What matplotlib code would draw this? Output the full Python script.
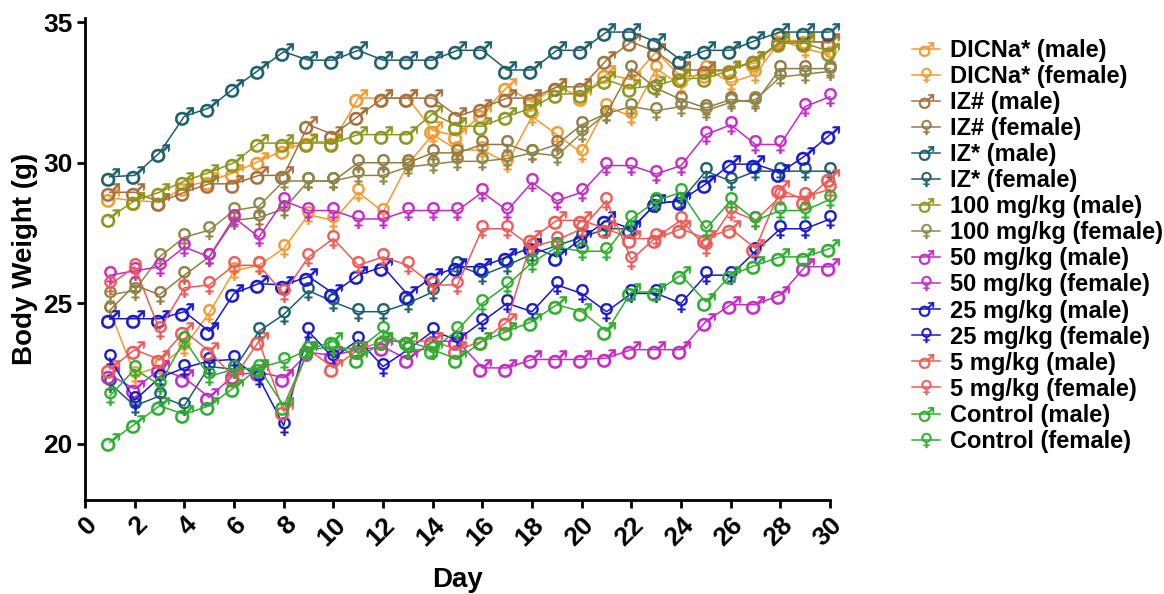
import matplotlib
matplotlib.use('Agg')
import matplotlib.pyplot as plt

plt.rcParams['font.family'] = ['Liberation Sans', 'DejaVu Sans']
plt.rcParams['mathtext.fontset'] = 'dejavusans'

# body weight (g) per day
days = list(range(1, 31))

dicna_male = [28.75, 28.65, 28.6, 29.15, 29.35, 29.65, 30.05, 30.45, 30.75, 30.75,
              32.3, 32.3, 32.3, 31.15, 30.95, 31.75, 32.7, 32.15, 32.7, 32.35,
              33.15, 32.95, 33.95, 33.05, 33.15, 33.35, 33.55, 34.35, 34.35, 34.25]
dicna_female = [24.75, 22.45, 22.75, 23.45, 24.65, 26.15, 26.35, 26.95, 28.15, 27.95,
                28.95, 28.25, 29.95, 31.0, 30.45, 30.45, 30.0, 31.65, 31.0, 30.35,
                32.0, 31.65, 33.35, 32.75, 33.35, 32.85, 33.15, 34.35, 34.05, 33.85]
izh_male = [28.95, 28.95, 28.6, 28.95, 29.25, 29.25, 29.55, 29.55, 31.35, 31.0,
            31.65, 32.3, 32.3, 32.3, 31.65, 31.95, 32.3, 32.3, 32.7, 32.7,
            33.65, 34.3, 33.95, 33.3, 33.3, 33.3, 33.65, 34.3, 34.3, 34.3]
izh_female = [24.75, 25.65, 25.3, 26.0, 26.65, 27.95, 28.05, 28.35, 29.35, 29.35,
              30.0, 30.0, 30.0, 30.35, 30.35, 30.65, 30.65, 30.35, 30.65, 31.35,
              31.75, 33.35, 32.65, 32.25, 31.95, 32.25, 32.15, 33.35, 33.35, 33.35]
izs_male = [29.5, 29.55, 30.35, 31.65, 31.95, 32.65, 33.3, 33.95, 33.65, 33.65,
            34.0, 33.65, 33.65, 33.65, 34.0, 34.0, 33.3, 33.3, 34.0, 34.0,
            34.65, 34.65, 34.3, 33.65, 34.0, 34.0, 34.35, 34.65, 34.65, 34.65]
izs_female = [22.15, 21.35, 21.7, 21.35, 22.75, 22.65, 24.0, 24.6, 25.45, 25.05,
              24.7, 24.7, 25.0, 25.4, 26.35, 26.0, 26.35, 26.75, 27.05, 27.35,
              27.65, 27.65, 28.55, 28.65, 29.7, 29.35, 29.7, 29.7, 29.7, 29.7]
d100_male = [28.05, 28.65, 28.95, 29.35, 29.65, 30.0, 30.7, 30.7, 30.7, 30.7,
             31.0, 31.0, 31.0, 31.75, 31.3, 31.3, 31.65, 31.95, 32.45, 32.45,
             32.95, 32.65, 32.75, 33.0, 33.0, 33.3, 33.65, 34.25, 34.25, 33.95]
d100_female = [25.3, 25.45, 26.65, 27.35, 27.6, 28.3, 28.45, 29.35, 29.35, 29.35,
               29.55, 29.55, 29.85, 29.95, 30.05, 30.05, 30.15, 30.35, 30.25, 31.05,
               31.75, 32.0, 31.85, 32.0, 31.85, 32.15, 32.25, 33.05, 33.15, 33.25]
d50_male = [22.45, 21.95, 22.65, 22.35, 21.65, 22.45, 22.55, 22.35, 23.25, 23.15,
            23.35, 23.45, 23.0, 23.65, 23.65, 22.7, 22.7, 23.0, 23.0, 23.0,
            23.05, 23.35, 23.35, 23.35, 24.35, 24.95, 24.95, 25.3, 26.3, 26.3]
d50_female = [26.0, 26.15, 26.3, 27.0, 26.65, 28.05, 27.35, 28.65, 28.3, 28.3,
              28.0, 28.0, 28.3, 28.3, 28.3, 28.95, 28.3, 29.3, 28.65, 28.95,
              29.9, 29.9, 29.6, 29.9, 31.0, 31.35, 30.65, 30.65, 32.0, 32.35]
d25_male = [24.45, 24.45, 24.45, 24.7, 24.0, 25.35, 25.7, 25.65, 25.95, 25.35,
            26.0, 26.3, 25.3, 25.95, 26.3, 26.3, 26.65, 27.0, 26.65, 27.3,
            27.95, 27.65, 28.55, 28.65, 29.25, 29.95, 29.95, 29.65, 30.25, 31.0]
d25_female = [23.05, 21.55, 22.35, 22.7, 22.95, 23.0, 22.35, 20.65, 24.0, 23.05,
              23.7, 22.75, 23.35, 24.0, 23.7, 24.35, 25.0, 24.7, 25.65, 25.35,
              24.7, 25.35, 25.35, 25.0, 26.0, 26.0, 26.85, 27.65, 27.65, 28.0]
d5_male = [22.65, 23.35, 23.0, 24.0, 23.3, 22.35, 23.65, 21.15, 23.35, 22.7,
           23.35, 23.65, 23.65, 23.65, 23.35, 23.65, 24.35, 27.3, 27.95, 27.95,
           27.65, 27.3, 27.3, 27.65, 27.3, 27.65, 26.95, 29.05, 28.65, 29.45]
d5_female = [25.65, 26.3, 24.05, 25.55, 25.65, 26.35, 26.35, 25.35, 26.65, 27.3,
             26.35, 26.65, 26.35, 25.65, 25.65, 27.65, 27.65, 27.0, 27.25, 27.65,
             28.65, 26.55, 27.35, 27.95, 27.0, 28.3, 27.95, 28.8, 28.8, 29.05]
ctrl_male = [20.05, 20.7, 21.35, 21.05, 21.35, 22.0, 22.7, 21.35, 23.35, 23.65,
             23.0, 23.65, 23.65, 23.35, 23.0, 23.65, 24.0, 24.35, 24.95, 24.7,
             24.0, 25.4, 25.4, 26.0, 25.05, 26.0, 26.35, 26.65, 26.65, 26.95]
ctrl_female = [21.7, 22.65, 22.1, 23.7, 22.4, 22.65, 22.7, 22.95, 23.35, 23.45,
               23.35, 24.05, 23.35, 23.35, 24.05, 25.0, 25.65, 26.45, 27.0, 26.85,
               26.85, 28.0, 28.65, 28.95, 27.65, 28.65, 27.95, 28.3, 28.3, 28.7]

MALE = '$\u2642$'
FEMALE = '$\u2640$'

# label, values, colour, symbol
series = [
    ('DICNa* (male)', dicna_male, '#F39A2E', MALE),
    ('DICNa* (female)', dicna_female, '#F39A2E', FEMALE),
    ('IZ# (male)', izh_male, '#A5703F', MALE),
    ('IZ# (female)', izh_female, '#927A45', FEMALE),
    ('IZ* (male)', izs_male, '#1C5E6C', MALE),
    ('IZ* (female)', izs_female, '#1C5E6C', FEMALE),
    ('100 mg/kg (male)', d100_male, '#8C961E', MALE),
    ('100 mg/kg (female)', d100_female, '#8E8748', FEMALE),
    ('50 mg/kg (male)', d50_male, '#C52AC5', MALE),
    ('50 mg/kg (female)', d50_female, '#C52AC5', FEMALE),
    ('25 mg/kg (male)', d25_male, '#1818CC', MALE),
    ('25 mg/kg (female)', d25_female, '#1818CC', FEMALE),
    ('5 mg/kg (male)', d5_male, '#EE5B55', MALE),
    ('5 mg/kg (female)', d5_female, '#EE5B55', FEMALE),
    ('Control (male)', ctrl_male, '#2EAE2E', MALE),
    ('Control (female)', ctrl_female, '#2EAE2E', FEMALE),
]

fig = plt.figure(figsize=(11.64, 5.94), dpi=100)
ax = fig.add_axes([85 / 1164, 94 / 594, 745 / 1164, 482 / 594])

for label, vals, color, sym in series:
    ax.plot(days, vals, color=color, linewidth=1.1, marker=sym, markersize=13.5,
            markerfacecolor=color, markeredgecolor=color, markeredgewidth=0.3,
            label=label, clip_on=False)

ax.set_xlim(0, 30)
ax.set_ylim(18, 35.15)
ax.set_xticks(range(0, 31, 2))
ax.set_yticks([20, 25, 30, 35])

for side in ['top', 'right']:
    ax.spines[side].set_visible(False)
for side in ['left', 'bottom']:
    ax.spines[side].set_linewidth(2)
ax.tick_params(direction='out', width=2, length=6, labelsize=19, pad=3)
for t in ax.get_xticklabels():
    t.set_fontweight('bold')
    t.set_rotation(45)
    t.set_ha('right')
    t.set_rotation_mode('anchor')
for t in ax.get_yticklabels():
    t.set_fontweight('bold')

ax.set_xlabel('Day', fontsize=20, fontweight='bold', labelpad=12)
ax.set_ylabel('Body Weight (g)', fontsize=20, fontweight='bold', labelpad=4)

fig.legend(loc='upper left', bbox_to_anchor=(900 / 1164, 1 - 27 / 594),
           frameon=False, prop={'weight': 'bold', 'size': 17},
           labelspacing=0.13, handlelength=1.2, handletextpad=0.4,
           markerscale=0.8, borderpad=0)

fig.savefig('out.png', dpi=100)
